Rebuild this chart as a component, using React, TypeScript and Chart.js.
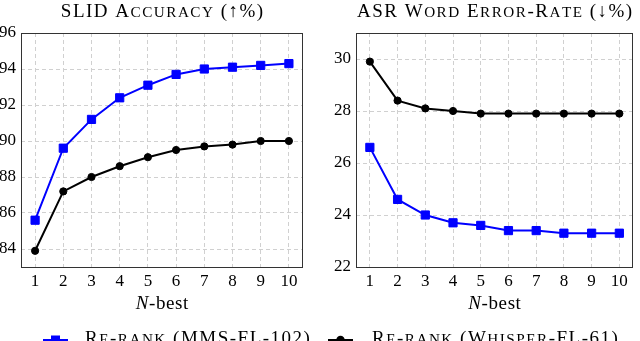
import React, { useEffect, useRef } from "react";
import { Chart, registerables } from "chart.js";

Chart.register(...registerables);

const nBest = ["1", "2", "3", "4", "5", "6", "7", "8", "9", "10"];
const slidMms = [85.6, 89.6, 91.2, 92.4, 93.1, 93.7, 94.0, 94.1, 94.2, 94.3];
const slidWhisper = [83.9, 87.2, 88.0, 88.6, 89.1, 89.5, 89.7, 89.8, 90.0, 90.0];
const werMms = [26.6, 24.6, 24.0, 23.7, 23.6, 23.4, 23.4, 23.3, 23.3, 23.3];
const werWhisper = [29.9, 28.4, 28.1, 28.0, 27.9, 27.9, 27.9, 27.9, 27.9, 27.9];
const slidRange = [83, 96];
const werRange = [22, 31];
const yStep = 2;

const titles = ["SLID Accuracy (\u2191%)", "ASR Word Error-Rate (\u2193%)"];
const seriesNames = ["Re-rank (MMS-FL-102)", "Re-rank (Whisper-FL-61)"];

const BLUE = "#0000ff";
const BLACK = "#000000";
const FONT = "'Liberation Serif', 'DejaVu Serif', serif";

type Decor = {
  title: string;
  legend: { x0: number; x1: number; textX: number; color: string; style: "rect" | "circle"; label: string };
};

type Glyph = { t: string; font: string };

// Small caps: lowercase letters drawn as smaller capitals.
function smallCapsGlyphs(text: string, size: number): Glyph[] {
  const out: Glyph[] = [];
  for (const ch of text) {
    const lower = ch !== ch.toUpperCase();
    const s = lower ? size * 0.8 : size;
    out.push({ t: lower ? ch.toUpperCase() : ch, font: `${s}px ${FONT}` });
  }
  return out;
}

function drawGlyphs(ctx: CanvasRenderingContext2D, glyphs: Glyph[], x: number, y: number, spacing: number, align: "left" | "center") {
  ctx.textAlign = "left";
  const widths = glyphs.map((g) => {
    ctx.font = g.font;
    return ctx.measureText(g.t).width;
  });
  const total = widths.reduce((a, b) => a + b, 0) + spacing * (glyphs.length - 1);
  let cx = align === "center" ? x - total / 2 : x;
  glyphs.forEach((g, i) => {
    ctx.font = g.font;
    ctx.fillText(g.t, cx, y);
    cx += widths[i] + spacing;
  });
}

function decorPlugin(d: Decor) {
  return {
    id: "decor",
    beforeDatasetsDraw(chart: any) {
      const ctx = chart.ctx;
      const a = chart.chartArea;
      ctx.save();
      ctx.strokeStyle = "#333";
      ctx.lineWidth = 1;
      ctx.setLineDash([]);
      ctx.strokeRect(Math.round(a.left) + 0.5, Math.round(a.top) + 0.5, Math.round(a.right - a.left) - 1, Math.round(a.bottom - a.top));
      ctx.restore();
    },
    afterDraw(chart: any) {
      const ctx = chart.ctx;
      const a = chart.chartArea;
      const cx = (a.left + a.right) / 2;
      ctx.save();
      ctx.fillStyle = "#000";
      ctx.textBaseline = "alphabetic";
      // title
      drawGlyphs(ctx, smallCapsGlyphs(d.title, 19), cx, 17, 1.5, "center");
      // x-axis title
      const xt: Glyph[] = [{ t: "N", font: `italic 19px ${FONT}` }];
      for (const ch of "-best") xt.push({ t: ch, font: `19px ${FONT}` });
      drawGlyphs(ctx, xt, cx, 309, 0.6, "center");
      // legend
      const L = d.legend;
      const ly = 340;
      ctx.strokeStyle = L.color;
      ctx.fillStyle = L.color;
      ctx.lineWidth = 2;
      ctx.beginPath();
      ctx.moveTo(L.x0, ly);
      ctx.lineTo(L.x1, ly);
      ctx.stroke();
      const mx = (L.x0 + L.x1) / 2;
      ctx.beginPath();
      if (L.style === "rect") {
        ctx.rect(mx - 4.5, ly - 4.5, 9, 9);
      } else {
        ctx.arc(mx, ly, 4.2, 0, Math.PI * 2);
      }
      ctx.fill();
      ctx.fillStyle = "#000";
      drawGlyphs(ctx, smallCapsGlyphs(L.label, 19), L.textX, 344, 1.5, "left");
      ctx.restore();
    },
  };
}

function makeConfig(
  data1: number[],
  data2: number[],
  range: number[],
  yWidth: number,
  padRight: number,
  decor: Decor
): any {
  return {
    type: "line",
    data: {
      labels: nBest,
      datasets: [
        {
          label: seriesNames[0],
          data: data1,
          borderColor: BLUE,
          backgroundColor: BLUE,
          borderWidth: 2,
          pointStyle: "rect",
          pointRadius: 5.8,
          pointBorderWidth: 1,
          tension: 0,
        },
        {
          label: seriesNames[1],
          data: data2,
          borderColor: BLACK,
          backgroundColor: BLACK,
          borderWidth: 2,
          pointStyle: "circle",
          pointRadius: 3.6,
          pointBorderWidth: 1,
          tension: 0,
        },
      ],
    },
    options: {
      responsive: false,
      animation: false,
      devicePixelRatio: 1,
      layout: { padding: { top: 33, right: padRight, left: 0, bottom: 0 } },
      plugins: {
        legend: { display: false },
        title: { display: false },
        tooltip: { enabled: false },
      },
      scales: {
        x: {
          type: "category",
          offset: true,
          grid: { color: "#d0d0d0", lineWidth: 1, drawTicks: false },
          border: { display: false, dash: [4, 3] },
          ticks: {
            color: "#000",
            font: { family: FONT, size: 17 },
            padding: 4,
            maxRotation: 0,
            autoSkip: false,
          },
          afterFit: (s: any) => {
            s.height = 74;
          },
        },
        y: {
          type: "linear",
          min: range[0],
          max: range[1],
          grid: { color: "#d0d0d0", lineWidth: 1, drawTicks: false },
          border: { display: false, dash: [4, 3] },
          ticks: {
            stepSize: yStep,
            includeBounds: false,
            color: "#000",
            font: { family: FONT, size: 17 },
            padding: 5,
          },
          afterFit: (s: any) => {
            s.width = yWidth;
          },
        },
      },
    },
    plugins: [decorPlugin(decor)],
  };
}

export default function App() {
  const leftRef = useRef<HTMLCanvasElement>(null);
  const rightRef = useRef<HTMLCanvasElement>(null);

  useEffect(() => {
    const c1 = new Chart(
      leftRef.current!,
      makeConfig(slidMms, slidWhisper, slidRange, 21, 17, {
        title: titles[0],
        legend: { x0: 43, x1: 68, textX: 85, color: BLUE, style: "rect", label: seriesNames[0] },
      })
    );
    const c2 = new Chart(
      rightRef.current!,
      makeConfig(werMms, werWhisper, werRange, 36, 1, {
        title: titles[1],
        legend: { x0: 8, x1: 33, textX: 52, color: BLACK, style: "circle", label: seriesNames[1] },
      })
    );
    return () => {
      c1.destroy();
      c2.destroy();
    };
  }, []);

  return (
    <div style={{ position: "absolute", left: 0, top: 0, width: 640, height: 341, background: "#fff", overflow: "hidden" }}>
      <canvas ref={leftRef} width={320} height={341} style={{ position: "absolute", left: 0, top: 0 }} />
      <canvas ref={rightRef} width={320} height={341} style={{ position: "absolute", left: 320, top: 0 }} />
    </div>
  );
}
